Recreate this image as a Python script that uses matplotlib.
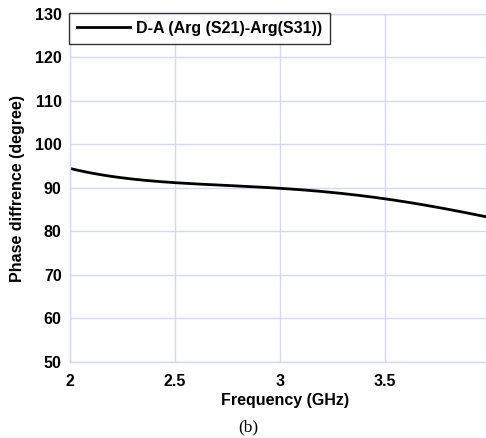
import matplotlib
matplotlib.use("Agg")
import matplotlib.pyplot as plt
import numpy as np

freq = [2.0, 2.25, 2.5, 2.75, 3.0, 3.25, 3.5, 3.75, 4.0]
phase = [94.4, 92.6, 91.1, 90.4, 89.9, 89.2, 87.6, 85.3, 83.3]
xticks = [2, 2.5, 3, 3.5, 4]
xticklabels = ["2", "2.5", "3", "3.5", "4"]
yticks = [50, 60, 70, 80, 90, 100, 110, 120, 130]

plt.rcParams['font.family'] = ['Liberation Sans', 'DejaVu Sans']

fig = plt.figure(figsize=(4.86, 4.38), dpi=100)
W, H = 486, 438
left, right, top, bottom = 70, 490, 14, 362
ax = fig.add_axes([left / W, 1 - bottom / H, (right - left) / W, (bottom - top) / H])

# smooth curve through read points
xs = np.linspace(2, 4, 200)
coef = np.polyfit(freq, phase, 4)
ax.plot(xs, np.polyval(coef, xs), color='black', lw=2.0, label='D-A (Arg (S21)-Arg(S31))')

ax.set_xlim(2, 4)
ax.set_ylim(50, 130)
ax.set_xticks(xticks)
ax.set_xticklabels(xticklabels)
ax.set_yticks(yticks)
grid_c = '#d6d6fa'
ax.grid(True, color=grid_c, lw=1)
for s in ax.spines.values():
    s.set_color(grid_c)
    s.set_linewidth(1)
ax.tick_params(length=0, labelsize=11.5)
ax.tick_params(axis='x', pad=9)
ax.tick_params(axis='y', pad=6)
for lab in ax.get_xticklabels() + ax.get_yticklabels():
    lab.set_fontweight('bold')

ax.set_xlabel('Frequency (GHz)', fontsize=11.5, fontweight='bold', labelpad=3)
ax.set_xlabel('Frequency (GHz)', fontsize=11.5, fontweight='bold', labelpad=3)
ax.xaxis.set_label_coords((285 - left) / (right - left), -(400 - bottom) / (bottom - top))
ax.xaxis.label.set_va('center')
ax.set_ylabel('Phase diffrence (degree)', fontsize=11.5, fontweight='bold', labelpad=7)

leg = ax.legend(loc='upper left', bbox_to_anchor=(-0.002, 1.003), prop={'weight': 'bold', 'size': 11.5},
                frameon=True, fancybox=False, borderaxespad=0, handlelength=3.3,
                borderpad=0.5, handletextpad=0.4)
leg.get_frame().set_edgecolor('black')
leg.get_frame().set_linewidth(1)

fig.text(248 / W, 1 - 427 / H, '(b)', ha='center', va='center',
         fontsize=12.5, family='Liberation Serif')

fig.savefig('out.png', dpi=100)
